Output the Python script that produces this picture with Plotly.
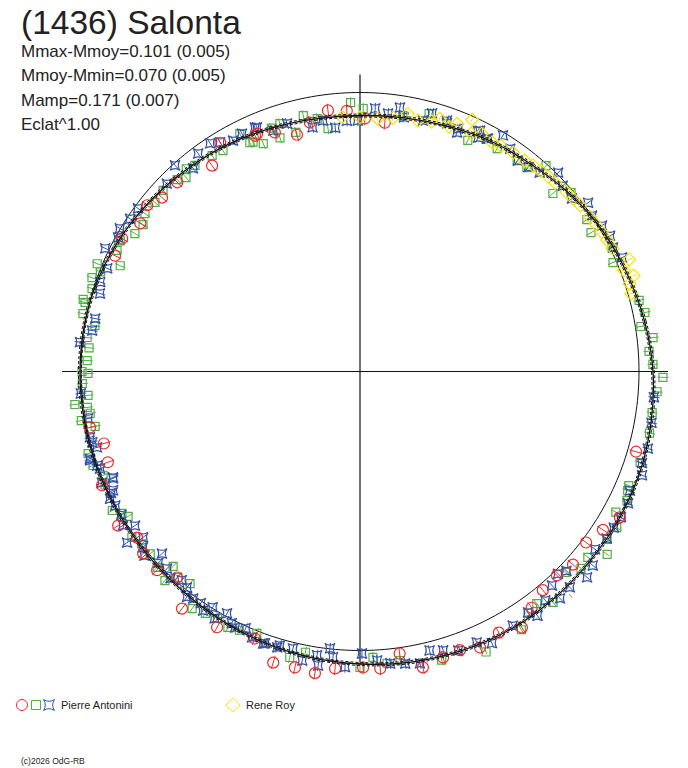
import plotly.graph_objects as go

# ---------------- data (phase angle in degrees, magnitude deviation) ----------------
fit_theta = [0, 10, 20, 30, 40, 50, 60, 70, 80, 90, 100, 110, 120, 130, 140, 150, 160, 170,
             180, 190, 200, 210, 220, 230, 240, 250, 260, 270, 280, 290, 300, 310, 320, 330, 340, 350, 360]
fit_dm = [0.052, 0.036, 0.018, 0.002, -0.020, -0.044, -0.060, -0.078, -0.090, -0.096, -0.094, -0.084,
          -0.070, -0.056, -0.040, -0.024, -0.010, -0.002, 0.000, 0.000, 0.000, 0.000, 0.002, 0.008,
          0.018, 0.030, 0.040, 0.050, 0.060, 0.068, 0.074, 0.074, 0.072, 0.072, 0.070, 0.062, 0.052]
fit_err = 0.006

red_theta = [97, 92.9, 88.9, 84.3, 104.9, 101.4, 114, 109.6,
             125.7, 121.4, 113.4, 134, 138.7, 142, 146, 150.8, 154.7,
             191.7, 195.7, 199.8, 203.8, 212.5, 216.7, 220, 224.4, 228.4, 233.1, 240.8, 248.5, 253.4,
             257.6, 261.5, 265.2, 270.6, 273.9, 278, 282, 286.2, 289.7, 293.5,
             298, 302.3, 306, 309.9, 314, 317.8, 322.9, 326.9, 330.7, 343.8]
red_dm = [-0.068, -0.076, -0.108, -0.120, -0.140, -0.104, -0.088, -0.105,
          -0.106, -0.048, -0.084, -0.068, -0.066, -0.040, -0.060, -0.030, -0.036,
          -0.017, -0.056, -0.048, 0.008, 0.027, -0.008, 0.012, 0.016, -0.018, 0.066, 0.052, 0.028, 0.095,
          0.092, 0.100, 0.072, 0.064, 0.071, 0.019, 0.090, 0.071, 0.064, 0.084,
          0.063, 0.092, 0.048, 0.020, 0.014, 0.030, 0.014, 0.040, 0.072, 0.030]
red_err = 0.027

green_theta = [23.3, 14.3, 11.7, 9.1, 6.6, 4.0, 1.4, -1.1, -3.9, 352, 348,
               65, 58.4, 53.3, 50.7, 47.9, 42.7, 40.3, 31, 33.8, 26.2,
               92, 89.3, 102.5, 105, 97.5, 108.9, 113, 80.5, 75, 99.6, 110, 115,
               116.8, 115.7, 107.9, 121.8, 124.4, 128.7, 130.6, 131.9, 133.6, 137.4, 140.5, 143.7,
               145.9, 148.5, 151.4, 153.5, 156.2, 157.7, 159, 160.7, 162.8, 165.4,
               165.9, 168.2, 170.2, 172.9, 175, 177.7, 180, 180.4, 182.5, 185, 186.6, 187.5, 188.8,
               190, 191.7, 196.8, 199.4, 202, 204,
               209.3, 210.8, 212, 216, 218.3, 221, 224, 226.2, 227, 228.5, 231.3, 234.7, 237.4,
               240, 242.7, 245, 248.5,
               256.2, 259, 270, 272.6, 275.3, 277.9, 285.8, 294.2,
               302, 304.8, 307.3, 309.9, 313.2, 315.7, 318.3, 320.8, 323.5, 325.8, 328.7, 331.2,
               334.2, 336, 337, 342]
green_dm = [-0.018, 0.032, 0.044, 0.018, 0.060, 0.039, 0.052, 0.092, 0.071, 0.060, 0.064,
            -0.100, -0.073, -0.068, -0.066, -0.010, -0.070, -0.013, -0.042, -0.028, 0.004,
            -0.044, -0.068, -0.072, -0.130, -0.140, -0.132, -0.130, -0.082, -0.052, -0.094, -0.084, -0.108,
            -0.054, -0.104, -0.078, -0.080, -0.073, -0.064, -0.052, -0.078, -0.060, -0.050, -0.057, -0.053,
            -0.072, -0.064, -0.028, -0.034, -0.072, 0.016, -0.008, 0.016, 0.002, 0.024,
            0.014, 0.012, -0.044, -0.020, -0.032, -0.028, -0.008, -0.032, -0.008, -0.028, 0.028, -0.020, -0.028,
            0.012, -0.038, 0.016, 0.012, -0.012, -0.004,
            0.016, -0.012, -0.026, 0.008, -0.008, -0.008, 0.008, -0.040, 0.024, -0.020, -0.033, 0.042, 0.028,
            0.020, 0.032, 0.022, 0.006,
            0.058, 0.024, 0.064, 0.025, 0.052, 0.047, 0.080, 0.110,
            0.098, 0.058, 0.047, 0.084, 0.124, 0.031, 0.064, 0.056, 0.110, 0.075, 0.082, 0.048,
            0.066, 0.052, 0.048, 0.058]
green_err = 0.022

blue_theta = [113.3, 109.8, 106.4, 101, 98.4, 95.8, 93, 90.5, 86.7, 83.8, 81.4, 80.2, 75.9, 74.4,
              70.9, 68, 63.5, 63.2, 61.4,
              70.7, 67.9, 63.9, 61.2, 58.8, 56, 53.2, 50.5, 47.9, 45.1, 42.5, 39.2, 36.5, 33.9,
              31.1, 28.5, 26.1, 23.5,
              112.9, 116.4, 118.8, 121.4, 123.3, 126.6, 131.9, 129.4, 135.8, 143.7, 146.4, 149.2,
              151, 154.2, 157.8, 161, 163.3,
              168.7, 171.3, 174, 184.5, 189.8, 193.7, 196.1, 198.2, 199.7, 203.3, 203.4, 205.7,
              194.8, 197.9, 203.2, 207, 208.7, 214.4, 216.3, 217.4, 222.6, 225.6, 231.3, 233.7,
              236.7, 238, 241.2, 244, 247.9, 250.4, 253.3,
              200.5, 206, 211, 213, 219, 220.5, 223.5, 227.5, 229.5, 232.5, 235.5, 239.5, 243, 246,
              250.7, 253.7, 256.4, 258.7, 261.4, 261.9, 263.8, 264.6, 267.1, 270.4, 273.4, 275.9,
              278.8, 281.6, 284, 286.6, 289.4, 293.3,
              295.9, 301, 304.9, 306, 309, 311.9, 311.4, 314.2, 316, 314.4, 317.8, 320.2, 322.9,
              325.9, 328.4, 330.8, 333.8, 336.2, 339.8, 342, 345, 350, 355]
blue_dm = [-0.058, -0.096, -0.086, -0.125, -0.105, -0.140, -0.116, -0.116, -0.066, -0.082, -0.052,
           -0.088, -0.085, -0.048, -0.058, -0.072, -0.044, -0.072, -0.060,
           -0.068, -0.088, -0.048, -0.057, -0.016, -0.045, -0.066, -0.060, -0.048, 0.003, -0.020,
           -0.026, 0.015, -0.002, 0.010, 0.018, 0.007, 0.023,
           -0.060, -0.058, -0.066, -0.046, -0.028, -0.034, -0.012, -0.068, -0.042, -0.018, -0.016,
           -0.002, -0.014, 0.012, -0.028, -0.021, -0.034,
           -0.040, -0.036, 0.006, 0.000, -0.016, -0.008, -0.025, 0.016, -0.004, 0.004, -0.044, -0.024,
           -0.012, 0.015, -0.045, 0.002, -0.004, -0.029, 0.036, -0.028, -0.044, -0.017, -0.013, 0.007,
           0.024, -0.008, -0.016, 0.020, 0.028, 0.035, 0.032,
           -0.010, -0.012, -0.006, 0.010, -0.002, 0.014, -0.008, 0.002, -0.022, 0.016, 0.004, 0.026,
           0.010, 0.004,
           0.032, 0.022, 0.020, 0.059, 0.028, 0.068, -0.006, 0.028, 0.064, 0.008, 0.038, 0.054,
           0.062, 0.072, 0.030, 0.044, 0.063, 0.060,
           0.088, 0.066, 0.055, 0.088, 0.058, 0.030, 0.090, 0.084, 0.028, 0.012, 0.106, 0.092, 0.059,
           0.072, 0.072, 0.076, 0.075, 0.060, 0.082, 0.066, 0.072, 0.064, 0.060]
blue_err = 0.022

yellow_theta = [94, 90, 86, 82.6, 79.5, 77, 74, 72.5, 70, 68.6, 66, 65, 62.9, 60, 58, 55, 52, 50,
                48, 46, 44, 41, 39, 37, 34, 32, 30, 28, 26, 22.6, 21, 19.3, 18, 16]
yellow_dm = [-0.100, -0.104, -0.106, -0.096, -0.072, -0.090, -0.080, -0.060, -0.078, -0.056, -0.017,
             -0.070, -0.052, -0.062, -0.056, -0.052, -0.050, -0.044, -0.040, -0.036, -0.034, -0.026,
             -0.022, -0.016, -0.012, -0.008, -0.004, 0.000, 0.004, 0.046, 0.010, 0.040, 0.014, 0.008]
yellow_err = 0.012

title_text = "(1436) Salonta"
info_lines = ["Mmax-Mmoy=0.101 (0.005)", "Mmoy-Mmin=0.070 (0.005)", "Mamp=0.171 (0.007)", "Eclat^1.00"]
observers = ["Pierre Antonini", "Rene Roy"]
copyright_text = "(c)2026 OdG-RB"

# ---------------- layout constants ----------------
OFF = 0                       # page body margin is removed by the post script below
W, H = 688 - OFF, 768 - OFF   # figure size
CX, CY = 360 - OFF, 371.5 - OFF   # centre in figure px
RPX = 310                    # px radius of polar area
SCALE = 250.0                # px per magnitude
RMAX = RPX / SCALE
RBASE = 1.12                 # radius of mean magnitude (mag units)
RCIRCLE = 1.116

RED = "#ee2a2a"
GREEN = "#52b043"
BLUE = "#3552a8"
YELLOW = "#f5e400"
FONT = "Liberation Sans, Arial"

fig = go.Figure()

# reference circle
circ_t = [i for i in range(0, 361)]
fig.add_trace(go.Scatterpolar(theta=circ_t, r=[RCIRCLE] * len(circ_t), mode="lines",
                              line=dict(color="#111111", width=1), hoverinfo="skip", showlegend=False))
# axes
fig.add_trace(go.Scatterpolar(theta=[0, 0, 180], r=[1.232, 0, 1.192], mode="lines",
                              line=dict(color="#111111", width=1.2), hoverinfo="skip", showlegend=False))
fig.add_trace(go.Scatterpolar(theta=[90, 90, 270], r=[1.188, 0, 1.164], mode="lines",
                              line=dict(color="#111111", width=1.2), hoverinfo="skip", showlegend=False))


def add_series(th, dm, err, color, symbol, size):
    et, er = [], []
    for t, d in zip(th, dm):
        et += [t, t, None]
        er += [RBASE + d - err, RBASE + d + err, None]
    fig.add_trace(go.Scatterpolar(theta=et, r=er, mode="lines", connectgaps=False,
                                  line=dict(color=color, width=1), hoverinfo="skip", showlegend=False))
    fig.add_trace(go.Scatterpolar(theta=th, r=[RBASE + d for d in dm], mode="markers",
                                  marker=dict(symbol=symbol, size=size, color=color,
                                              line=dict(color=color, width=1.2)),
                                  showlegend=False))


add_series(green_theta, green_dm, green_err, GREEN, "square-open", 8)
add_series(blue_theta, blue_dm, blue_err, BLUE, "star-square-open", 9)
add_series(red_theta, red_dm, red_err, RED, "circle-open", 11)
add_series(yellow_theta, yellow_dm, yellow_err, YELLOW, "diamond-open", 10)

# fitted curve and its uncertainty envelope
fig.add_trace(go.Scatterpolar(theta=fit_theta, r=[RBASE + d for d in fit_dm], mode="lines",
                              line=dict(color="#111111", width=1.3, shape="spline"),
                              hoverinfo="skip", showlegend=False))
for s in (-1, 1):
    fig.add_trace(go.Scatterpolar(theta=fit_theta, r=[RBASE + d + s * fit_err for d in fit_dm],
                                  mode="lines",
                                  line=dict(color="#111111", width=1, dash="3px,2px", shape="spline"),
                                  hoverinfo="skip", showlegend=False))

# legend glyphs (pixel coordinates on a hidden cartesian overlay)
leg_x = [22, 36, 49, 233]
leg_sym = ["circle-open", "square-open", "star-square-open", "diamond-open"]
leg_col = [RED, GREEN, BLUE, YELLOW]
leg_size = [11, 9, 10, 11]
for x, s, c, z in zip(leg_x, leg_sym, leg_col, leg_size):
    fig.add_trace(go.Scatter(x=[x - OFF], y=[705 - OFF], mode="markers", xaxis="x", yaxis="y",
                             marker=dict(symbol=s, size=z, color=c, line=dict(color=c, width=1)),
                             hoverinfo="skip", showlegend=False))


def px_ann(text, x, y, size):
    return dict(text=text, x=(x - OFF) / W, y=1 - (y - OFF) / H, xref="paper", yref="paper",
                xanchor="left", yanchor="middle", showarrow=False,
                font=dict(family=FONT, size=size, color="#222222"))


ann = [px_ann(title_text, 19, 22, 33.5)]
for i, t in enumerate(info_lines):
    ann.append(px_ann(t, 19, 51.5 + 24.3 * i, 17))
ann.append(px_ann(observers[0], 59, 705, 11))
ann.append(px_ann(observers[1], 244, 705, 11))
ann.append(px_ann(copyright_text, 19, 761, 8.5))

fig.update_layout(
    width=W, height=H, margin=dict(l=0, r=0, t=0, b=0),
    paper_bgcolor="white", plot_bgcolor="white",
    polar=dict(
        domain=dict(x=[(CX - RPX) / W, (CX + RPX) / W],
                    y=[(H - CY - RPX) / H, (H - CY + RPX) / H]),
        bgcolor="rgba(0,0,0,0)",
        radialaxis=dict(visible=False, range=[0, RMAX], showgrid=False),
        angularaxis=dict(visible=False, showgrid=False, rotation=0, direction="counterclockwise"),
    ),
    xaxis=dict(visible=False, range=[0, W], domain=[0, 1], fixedrange=True),
    yaxis=dict(visible=False, range=[H, 0], domain=[0, 1], fixedrange=True),
    annotations=ann,
    showlegend=False,
)

fig.write_html("out.html", config={"displayModeBar": False},
               post_script="document.body.style.margin='0px';document.body.style.overflow='hidden';")
